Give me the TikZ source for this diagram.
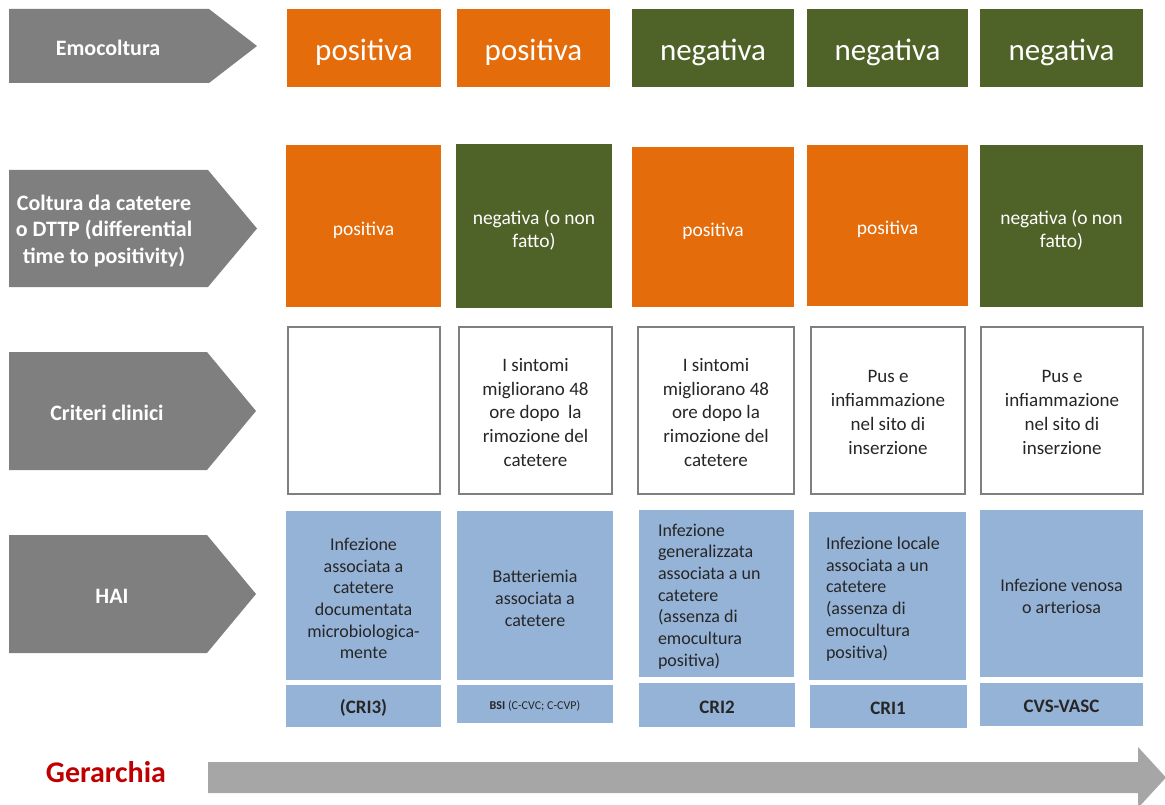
\documentclass[tikz,border=0pt]{standalone}
\usepackage{fontspec}
\setmainfont{Carlito}
\definecolor{hOrange}{HTML}{E46C0A}
\definecolor{hGreen}{HTML}{4F6228}
\definecolor{hBlue}{HTML}{95B3D7}
\definecolor{hGrey}{HTML}{7F7F7F}
\definecolor{hBar}{HTML}{A6A6A6}
\definecolor{hRed}{HTML}{C00000}
\definecolor{hText}{HTML}{262626}

\tikzset{
  cell/.style={inner sep=0pt, outer sep=0pt, align=center, anchor=center},
  % boxes
  orangebox/.style={cell, fill=hOrange},
  greenbox/.style={cell, fill=hGreen},
  clinicbox/.style={cell, draw=hGrey, line width=2.2pt, fill=white},
  bluebox/.style={cell, fill=hBlue},
  % texts
  rowlabel/.style={cell, text=white, font=\fontsize{22}{26.5}\selectfont\bfseries},
  bigtxt/.style={cell, text=white, font=\fontsize{31}{37}\selectfont, yshift=-4pt},
  midtxt/.style={cell, text=white, font=\fontsize{19.5}{23.5}\selectfont, yshift=-4pt},
  clinictxt/.style={cell, text=hText, font=\fontsize{19}{23.7}\selectfont, yshift=-2pt},
  haitxt/.style={cell, text=hText, font=\fontsize{18}{21.7}\selectfont, yshift=-3pt},
  codetxt/.style={cell, text=hText, font=\fontsize{19}{23}\selectfont\bfseries, yshift=-2pt},
  pointer/.style={fill=hGrey},
}

% box node plus its text node: box style, text style, name, centre, width, height, text
\newcommand\cellbox[7]{%
  \node[#1, minimum width=#5pt, minimum height=#6pt] (#3) at (#4) {};
  \node[#2] (#3-txt) at (#3.center) {#7};
}

\begin{document}
\begin{tikzpicture}[x=1pt, y=-1pt]
\useasboundingbox (0,0) rectangle (1165,805);

% ---- row headers (grey pointers) ----
\fill[pointer] (9,9) -- (209,9) -- (257,46) -- (209,83) -- (9,83) -- cycle;
\fill[pointer] (9,170) -- (208,170) -- (257,228.5) -- (208,287) -- (9,287) -- cycle;
\fill[pointer] (9,352) -- (207,352) -- (256,411) -- (207,470) -- (9,470) -- cycle;
\fill[pointer] (9,535) -- (207,535) -- (256,594) -- (207,653) -- (9,653) -- cycle;

\node[rowlabel] (lab1) at (108,48) {Emocoltura};
\node[rowlabel] (lab2) at (104,231) {Coltura da catetere\\o DTTP (differential\\time to positivity)};
\node[rowlabel] (lab3) at (107,413) {Criteri clinici};
\node[rowlabel] (lab4) at (112,596) {HAI};

% ---- row 1: emocoltura ----
\cellbox{orangebox}{bigtxt}{e1}{364,48}{154}{78}{positiva}
\cellbox{orangebox}{bigtxt}{e2}{533.5,48}{153}{78}{positiva}
\cellbox{greenbox}{bigtxt}{e3}{713,48}{162}{78}{negativa}
\cellbox{greenbox}{bigtxt}{e4}{887.5,48}{161}{78}{negativa}
\cellbox{greenbox}{bigtxt}{e5}{1061.5,48}{163}{78}{negativa}

% ---- row 2: coltura da catetere ----
\cellbox{orangebox}{midtxt}{c1}{363.5,226}{155}{162}{positiva}
\cellbox{greenbox}{midtxt}{c2}{534,226}{156}{163}{negativa (o non\\fatto)}
\cellbox{orangebox}{midtxt}{c3}{713,227}{162}{160}{positiva}
\cellbox{orangebox}{midtxt}{c4}{887.5,225.5}{161}{161}{positiva}
\cellbox{greenbox}{midtxt}{c5}{1061.5,226}{163}{162}{negativa (o non\\fatto)}

% ---- row 3: criteri clinici ----
\cellbox{clinicbox}{clinictxt}{k1}{364,410.5}{152}{167}{}
\cellbox{clinicbox}{clinictxt}{k2}{535.5,410.5}{153}{167}
  {I sintomi\\migliorano 48\\ore dopo\ \ la\\rimozione del\\catetere}
\cellbox{clinicbox}{clinictxt}{k3}{716,410.5}{156}{167}
  {I sintomi\\migliorano 48\\ore dopo la\\rimozione del\\catetere}
\cellbox{clinicbox}{clinictxt}{k4}{888,410.5}{154}{167}
  {Pus e\\infiammazione\\nel sito di\\inserzione}
\cellbox{clinicbox}{clinictxt}{k5}{1062,410.5}{162}{167}
  {Pus e\\infiammazione\\nel sito di\\inserzione}

% ---- row 4: HAI ----
\cellbox{bluebox}{haitxt}{h1}{363.5,595.5}{155}{169}
  {Infezione\\associata a\\catetere\\documentata\\microbiologica-\\mente}
\cellbox{bluebox}{haitxt}{h2}{535,595.5}{156}{169}
  {Batteriemia\\associata a\\catetere}
\cellbox{bluebox}{haitxt, text width=117pt, align=flush left}{h3}{716.5,593.5}{155}{167}
  {Infezione\\generalizzata\\associata a un\\catetere\\(assenza di\\emocultura\\positiva)}
\cellbox{bluebox}{haitxt, text width=124pt, align=flush left, xshift=1pt}{h4}{887,596}{157}{168}
  {Infezione locale\\associata a un\\catetere\\(assenza di\\emocultura\\positiva)}
\cellbox{bluebox}{haitxt}{h5}{1061.5,593.5}{163}{167}
  {Infezione venosa\\o arteriosa}

% ---- row 4: codes ----
\cellbox{bluebox}{codetxt}{d1}{363.5,706}{155}{42}{(CRI3)}
\cellbox{bluebox}{codetxt, font=\fontsize{12}{14}\selectfont}{d2}{535,704}{156}{38}
  {\textbf{BSI} (C-CVC; C-CVP)}
\cellbox{bluebox}{codetxt}{d3}{717,705}{156}{44}{CRI2}
\cellbox{bluebox}{codetxt}{d4}{888,706.5}{157}{43}{CRI1}
\cellbox{bluebox}{codetxt}{d5}{1061.5,704.5}{163}{43}{CVS-VASC}

% ---- hierarchy arrow ----
\node[cell, text=hRed, font=\fontsize{30}{36}\selectfont\bfseries] (ger) at (106,772) {Gerarchia};
\coordinate (barStart) at (208,777.5);
\coordinate (barTip) at (1166,777.5);
\begin{scope}
  \clip (0,0) rectangle (1165,805);
  \fill[hBar] (barStart) ++(0,-15.5) -- (1138,762) -- (1138,747) -- (barTip)
    -- (1138,808) -- (1138,793) -- (208,793) -- cycle;
\end{scope}
\end{tikzpicture}
\end{document}
